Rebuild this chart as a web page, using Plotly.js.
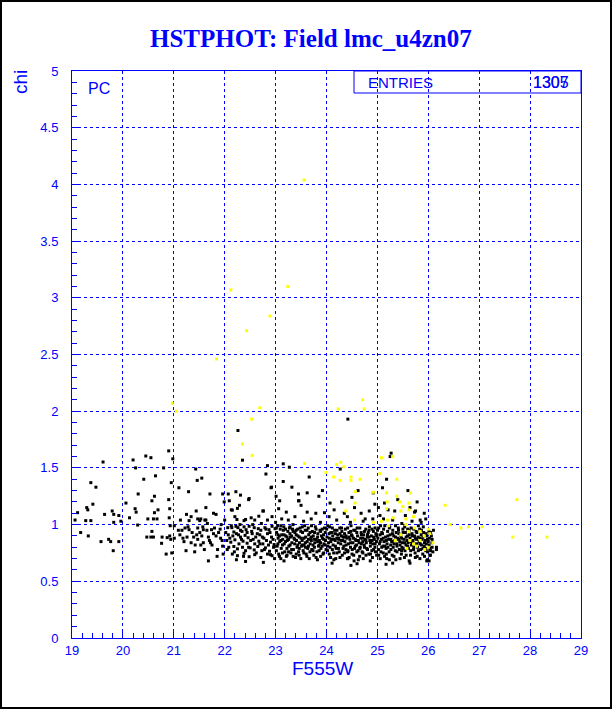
<!DOCTYPE html>
<html>
<head>
<meta charset="utf-8">
<script src="https://cdn.plot.ly/plotly-3.0.1.min.js"></script>
<style>
html,body{margin:0;padding:0;background:#fff;}
#wrap{position:relative;width:612px;height:709px;}
#chart{width:612px;height:709px;}
#frame{position:absolute;left:0;top:0;width:612px;height:709px;box-sizing:border-box;border:2px solid #000;pointer-events:none;}
</style>
</head>
<body>
<div id="wrap"><div id="chart"></div><div id="frame"></div></div>
<script>
// ---- data ----
const titleText = "HSTPHOT: Field lmc_u4zn07";
const xTitle = "F555W";
const yTitle = "chi";
const entriesA = "1305";
const entriesB = "1307";

// black points: [F555W, chi]
const blackSparse = [
[19.06,1.04],[19.11,1.105],[19.17,0.93],[19.27,1.035],[19.29,1.15],[19.31,1.13],[19.32,0.90],[19.37,1.37],[19.37,1.035],[19.41,1.18],[19.47,1.33],[19.57,0.85],[19.61,1.552],[19.64,1.09],[19.72,0.87],[19.76,0.85],[19.79,1.12],[19.81,0.77],[19.82,1.09],[19.82,1.02],[19.92,1.08],[19.92,0.85],[19.96,1.03],
[20.06,1.19],[20.13,1.06],[20.20,1.57],[20.24,1.14],[20.25,1.50],[20.26,1.11],[20.29,0.996],[20.30,1.27],[20.41,1.40],[20.45,1.605],[20.47,0.89],[20.49,1.05],[20.55,1.59],[20.55,0.89],[20.57,1.21],[20.57,0.94],[20.60,0.89],[20.60,1.05],[20.62,1.25],[20.62,1.105],[20.64,1.43],[20.67,1.05],[20.69,1.13],[20.76,0.835],[20.77,0.89],[20.80,1.50],[20.85,0.74],[20.87,0.885],[20.90,1.65],[20.90,1.22],[20.91,1.06],[20.92,1.14],[20.92,0.90],[20.93,0.99],[20.94,0.87],[20.95,1.37],[20.96,0.75],[20.98,1.58],[21.01,0.88],[21.01,0.99]
];
const blackBand21 = [
[21.09,0.95],[21.10,1.325],[21.13,1.04],[21.16,0.95],[21.20,0.85],[21.24,0.77],[21.25,1.09],[21.26,0.89],[21.28,0.98],[21.29,1.29],[21.30,0.955],[21.30,1.035],[21.34,1.07],[21.34,0.84],[21.39,0.89],[21.42,0.82],[21.43,1.49],[21.44,1.12],[21.46,1.39],[21.47,1.05],[21.47,0.97],[21.47,0.87],[21.51,0.93],[21.51,1.035],[21.53,0.82],[21.55,1.41],[21.58,0.955],[21.58,0.84],[21.61,1.04],[21.63,1.15],[21.65,0.95],[21.68,0.89],[21.68,0.68],[21.70,0.86],[21.71,1.27],[21.74,0.955],[21.75,0.82],[21.78,0.92],[21.78,1.10],[21.83,1.09],[21.83,0.90],[21.86,0.78],[21.91,0.96],[21.92,0.88],[21.95,0.86],[21.96,0.81],[21.96,1.27],[21.99,1.20],[22.00,1.04],
[21.12,0.91],[21.18,0.88],[21.22,0.97],[21.36,0.93],[21.41,0.76],[21.55,0.90],[21.60,0.78],[21.66,1.01],[21.72,0.84],[21.80,0.97],[21.85,0.72],[21.88,0.93],[21.93,1.00],[21.97,0.74],[21.57,0.98],[21.45,0.91],[21.53,1.05],[21.63,1.04]
];
const blackBand22 = [
[22.06,0.973],[22.14,0.973],[22.18,0.935],[22.22,0.985],[22.26,0.973],[22.31,0.95],[22.38,0.98],[22.42,0.955],[22.48,0.985],[22.58,0.973],[22.66,0.964],[22.71,0.95],[22.79,0.973],[22.87,0.955],[22.93,0.985],[22.99,0.964],
[22.07,0.91],[22.16,0.90],[22.23,0.92],[22.31,0.89],[22.40,0.905],[22.46,0.884],[22.54,0.92],[22.61,0.89],[22.69,0.91],[22.77,0.88],[22.84,0.92],[22.92,0.89],
[22.04,0.86],[22.12,0.845],[22.20,0.866],[22.28,0.83],[22.36,0.854],[22.44,0.836],[22.51,0.86],[22.59,0.83],[22.67,0.854],[22.75,0.83],[22.82,0.86],[22.90,0.845],[22.97,0.824],
[22.08,0.80],[22.18,0.807],[22.25,0.786],[22.35,0.80],[22.41,0.77],[22.50,0.795],[22.58,0.777],[22.65,0.807],[22.73,0.77],[22.80,0.795],[22.88,0.765],[22.96,0.80],
[22.15,0.74],[22.25,0.726],[22.38,0.747],[22.48,0.717],[22.59,0.735],[22.71,0.71],[22.84,0.74],[22.93,0.726],[22.23,0.69],[22.41,0.675],[22.76,0.667],[22.90,0.735],
[22.15,1.128],[22.25,1.143],[22.41,1.045],[22.52,1.06],[22.59,1.04],[22.67,1.074],[22.76,1.12],[22.84,1.04],[23.00,1.02],[22.93,1.07],[23.01,1.25],[22.92,1.33],[22.81,1.446],[22.84,1.52],[23.15,1.536],[23.27,1.506],[23.46,1.21],[23.62,1.28],[22.35,1.568],[22.22,1.29],[22.31,1.26],[22.47,1.22],
[22.48,1.23],[22.75,1.12],[22.91,1.325],[22.29,1.17],[22.13,1.13],[22.09,1.21],[22.07,1.27],[22.38,1.035],[22.20,1.07],[22.24,1.045],[22.26,1.83],
[22.02,0.93],[22.10,0.88],[22.13,0.99],[22.19,0.76],[22.27,0.91],[22.33,0.87],[22.37,0.72],[22.44,0.93],[22.47,0.80],[22.53,0.94],[22.56,0.87],[22.62,0.75],[22.64,0.92],[22.69,0.83],[22.74,0.89],[22.78,0.78],[22.81,0.96],[22.86,0.82],[22.89,0.93],[22.95,0.87],[22.98,0.70],[22.05,0.78],[22.30,1.00],[22.55,1.00],[22.72,1.01],[22.34,0.94]
];
const blackBand23 = [
[23.08,1.21],[23.21,1.11],[23.06,1.14],[23.32,1.33],[23.45,1.27],[23.45,1.21],[23.62,1.11],[23.79,1.10],[23.96,1.105],[23.12,1.05],[23.25,1.04],[23.38,1.07],[23.55,1.03],[23.70,1.05],[23.88,1.02],[23.50,1.17],[23.92,1.30],[23.15,1.38],[23.66,1.42],[23.85,1.25],
[23.02,0.93],[23.031,0.81],[23.05,0.88],[23.061,0.74],[23.042,0.99],[23.08,0.85],[23.091,0.96],[23.11,0.79],[23.121,0.91],[23.102,0.70],[23.14,0.87],[23.151,0.95],[23.17,0.83],[23.181,0.76],[23.162,0.98],[23.20,0.90],[23.211,0.72],[23.23,0.86],[23.241,0.94],[23.222,0.79],[23.26,0.81],[23.271,0.97],[23.29,0.89],[23.301,0.75],[23.282,0.92],[23.32,0.84],[23.331,0.96],[23.35,0.78],[23.361,0.88],[23.342,1.00],[23.38,0.93],[23.391,0.71],[23.41,0.86],[23.421,0.80],[23.402,0.95],[23.44,0.90],[23.451,0.76],[23.47,0.84],[23.481,0.97],[23.462,0.73],[23.50,0.88],[23.511,0.81],[23.53,0.93],[23.541,0.77],[23.522,0.86],[23.56,0.82],[23.571,0.99],[23.59,0.89],[23.601,0.74],[23.582,0.95],[23.62,0.85],[23.631,0.79],[23.65,0.91],[23.661,0.70],[23.642,0.97],[23.68,0.83],[23.691,0.88],[23.71,0.78],[23.721,0.94],[23.702,0.86],[23.74,0.90],[23.751,0.73],[23.77,0.84],[23.781,0.98],[23.762,0.80],[23.80,0.87],[23.811,0.76],[23.83,0.92],[23.841,0.81],[23.822,0.69],[23.86,0.86],[23.871,0.95],[23.89,0.79],[23.901,0.90],[23.882,0.84],[23.92,0.88],[23.931,0.74],[23.95,0.83],[23.961,0.97],[23.942,0.91],[23.98,0.86],[23.991,0.78],
[23.015,0.77],[23.015,0.97],[23.045,0.83],[23.045,0.91],[23.075,0.72],[23.075,0.90],[23.105,0.86],[23.105,0.99],[23.135,0.75],[23.135,0.82],[23.165,0.91],[23.165,0.68],[23.195,0.85],[23.195,0.96],[23.225,0.73],[23.225,0.89],[23.255,0.87],[23.255,0.76],[23.285,0.82],[23.285,0.98],[23.315,0.78],[23.315,0.90],[23.345,0.94],[23.345,0.72],[23.375,0.83],[23.375,0.87],[23.405,0.74],[23.405,0.91],[23.435,0.96],[23.435,0.82],[23.465,0.79],[23.465,0.89],[23.495,0.94],[23.495,0.70],[23.525,0.82],[23.525,0.98],[23.555,0.88],[23.555,0.75],[23.585,0.80],[23.585,0.84],[23.615,0.95],[23.615,0.72],[23.645,0.81],[23.645,0.87],[23.675,0.76],[23.675,0.93],[23.705,0.89],[23.705,0.99],[23.735,0.82],[23.735,0.77],[23.765,0.93],[23.765,0.87],[23.795,0.71],[23.795,0.96],[23.825,0.85],[23.825,0.89],[23.855,0.77],[23.855,0.82],[23.885,0.94],[23.885,0.72],[23.915,0.81],[23.915,0.96],[23.945,0.87],[23.945,0.75],[23.975,0.93],[23.975,0.82]
];
const blackBand24 = [
[24.07,1.19],[24.30,1.20],[24.41,1.07],[24.47,1.02],[24.68,1.10],[24.76,1.05],[24.84,1.12],[24.91,1.05],[24.92,1.28],[24.27,1.49],[24.42,1.93],[24.15,1.13],[24.55,1.15],[24.62,1.30],[24.20,1.04],[24.35,1.10],[24.95,1.18],[24.05,1.07],[24.72,1.03],[24.50,1.24],
[24.01,0.89],[24.021,0.77],[24.003,0.96],[24.04,0.84],[24.051,0.92],[24.07,0.80],[24.081,0.71],[24.062,0.98],[24.10,0.87],[24.111,0.93],[24.13,0.82],[24.141,0.75],[24.122,0.90],[24.16,0.95],[24.171,0.86],[24.19,0.79],[24.201,0.88],[24.182,0.70],[24.22,0.91],[24.231,0.84],[24.25,0.76],[24.261,0.97],[24.242,0.87],[24.28,0.83],[24.291,0.90],[24.31,0.73],[24.321,0.86],[24.302,0.94],[24.34,0.81],[24.351,0.89],[24.37,0.96],[24.381,0.78],[24.362,0.85],[24.40,0.88],[24.411,0.70],[24.43,0.83],[24.441,0.93],[24.422,0.77],[24.46,0.87],[24.471,0.80],[24.49,0.91],[24.501,0.74],[24.482,0.99],[24.52,0.84],[24.531,0.88],[24.55,0.79],[24.561,0.95],[24.542,0.68],[24.58,0.86],[24.591,0.82],[24.61,0.90],[24.621,0.77],[24.602,0.97],[24.64,0.84],[24.651,0.72],[24.67,0.88],[24.681,0.93],[24.662,0.80],[24.70,0.76],[24.711,0.85],[24.73,0.91],[24.741,0.82],[24.722,0.70],[24.76,0.87],[24.771,0.96],[24.79,0.79],[24.801,0.89],[24.782,0.84],[24.82,0.93],[24.831,0.74],[24.85,0.86],[24.861,0.81],[24.842,0.98],[24.88,0.90],[24.891,0.77],[24.91,0.83],[24.921,0.94],[24.902,0.71],[24.94,0.87],[24.951,0.80],[24.97,0.92],[24.981,0.85],[24.962,0.76],
[24.025,0.81],[24.025,0.99],[24.055,0.74],[24.055,0.88],[24.085,0.93],[24.085,0.85],[24.115,0.78],[24.115,0.97],[24.145,0.87],[24.145,0.69],[24.175,0.81],[24.175,0.92],[24.205,0.75],[24.205,0.95],[24.235,0.88],[24.235,0.79],[24.265,0.71],[24.265,0.92],[24.295,0.86],[24.295,0.97],[24.325,0.79],[24.325,0.89],[24.355,0.92],[24.355,0.75],[24.385,0.82],[24.385,0.90],[24.415,0.76],[24.415,0.97],[24.445,0.89],[24.445,0.71],[24.475,0.84],[24.475,0.94],[24.505,0.78],[24.505,0.90],[24.535,0.95],[24.535,0.73],[24.565,0.87],[24.565,0.81],[24.595,0.76],[24.595,0.93],[24.625,0.86],[24.625,0.69],[24.655,0.79],[24.655,0.97],[24.685,0.91],[24.685,0.83],[24.715,0.75],[24.715,0.88],[24.745,0.94],[24.745,0.80],[24.775,0.86],[24.775,0.73],[24.805,0.78],[24.805,0.91],[24.835,0.89],[24.835,0.95],[24.865,0.74],[24.865,0.84],[24.895,0.96],[24.895,0.86],[24.925,0.78],[24.925,0.89],[24.955,0.83],[24.955,0.97],[24.985,0.73],[24.985,0.90],
[24.48,0.64],[24.42,0.70],[24.86,0.68],[24.11,0.66],[24.60,0.655]
];
const blackBand25 = [
[25.27,1.63],[25.25,1.60],[25.18,1.40],[25.10,1.325],[25.14,1.19],[25.21,1.13],[25.34,1.12],[25.64,1.15],[25.73,1.11],[25.75,1.12],[25.84,1.04],[25.86,1.02],[25.05,1.08],[25.12,1.05],[25.40,1.22],[25.55,1.08],[25.30,1.04],[25.48,1.01],[25.68,1.03],[25.95,1.05],[25.78,1.20],[25.92,1.10],[25.60,1.30],[25.02,1.15],
[25.01,0.88],[25.021,0.78],[25.003,0.95],[25.04,0.83],[25.051,0.91],[25.07,0.76],[25.081,0.87],[25.062,0.99],[25.10,0.92],[25.111,0.81],[25.13,0.85],[25.141,0.72],[25.122,0.96],[25.16,0.89],[25.171,0.79],[25.19,0.83],[25.201,0.94],[25.182,0.70],[25.22,0.87],[25.231,0.76],[25.25,0.91],[25.261,0.82],[25.242,0.98],[25.28,0.85],[25.291,0.73],[25.31,0.80],[25.321,0.90],[25.302,0.95],[25.34,0.86],[25.351,0.77],[25.37,0.93],[25.381,0.83],[25.362,0.69],[25.40,0.88],[25.411,0.97],[25.43,0.78],[25.441,0.85],[25.422,0.92],[25.46,0.90],[25.471,0.74],[25.49,0.84],[25.501,0.96],[25.482,0.80],[25.52,0.87],[25.531,0.71],[25.55,0.93],[25.561,0.82],[25.542,0.77],[25.58,0.86],[25.591,0.90],[25.61,0.79],[25.621,0.95],[25.602,0.84],[25.64,0.88],[25.651,0.73],[25.67,0.82],[25.681,0.92],[25.662,0.97],[25.70,0.86],[25.711,0.78],[25.73,0.90],[25.741,0.75],[25.722,0.83],[25.76,0.94],[25.771,0.87],[25.79,0.80],[25.801,0.89],[25.782,0.72],[25.82,0.85],[25.831,0.96],[25.85,0.78],[25.861,0.91],[25.842,0.83],[25.88,0.87],[25.891,0.74],[25.91,0.93],[25.921,0.81],[25.902,0.98],[25.94,0.86],[25.951,0.77],[25.97,0.90],[25.981,0.69],[25.962,0.83],[26.00,0.85],[26.011,0.94],[26.03,0.79],[26.041,0.73],[26.022,0.88],[26.06,0.90],[26.071,0.84],[26.09,0.76],[26.101,0.95],
[25.025,0.73],[25.025,0.97],[25.055,0.85],[25.055,0.70],[25.085,0.80],[25.085,0.93],[25.115,0.88],[25.115,0.75],[25.145,0.81],[25.145,0.99],[25.175,0.74],[25.175,0.86],[25.205,0.90],[25.205,0.80],[25.235,0.97],[25.235,0.69],[25.265,0.78],[25.265,0.87],[25.295,0.85],[25.295,0.92],[25.325,0.72],[25.325,0.83],[25.355,0.89],[25.355,0.99],[25.385,0.76],[25.385,0.81],[25.415,0.95],[25.415,0.87],[25.445,0.82],[25.445,0.70],[25.475,0.88],[25.475,0.77],[25.505,0.93],[25.505,0.79],[25.535,0.84],[25.535,0.98],[25.565,0.73],[25.565,0.89],[25.595,0.81],[25.595,0.96],[25.625,0.91],[25.625,0.68],[25.655,0.77],[25.655,0.85],[25.685,0.84],[25.685,0.90],[25.715,0.96],[25.715,0.80],[25.745,0.71],[25.745,0.88],[25.775,0.83],[25.775,0.93],[25.805,0.77],[25.805,0.99],[25.835,0.88],[25.835,0.70],[25.865,0.82],[25.865,0.95],[25.895,0.79],[25.895,0.89],[25.925,0.84],[25.925,0.72],[25.955,0.92],[25.955,0.79],[25.985,0.76],[25.985,0.87],[26.015,0.82],[26.015,0.68],[26.045,0.93],[26.045,0.77],[26.075,0.80],[26.075,0.87],[26.16,0.78],[26.16,0.80],
[25.17,0.65],[25.64,0.66],[25.97,0.68],[26.03,0.73],[25.30,0.66]
];
// yellow points: [F555W, chi]
const yellowPts = [
[20.97,2.07],[21.05,2.00],[21.84,2.46],[22.43,2.71],[22.89,2.84],[22.12,3.07],[23.24,3.10],[23.56,4.04],[22.69,2.03],[22.53,1.93],[22.35,1.71],[24.23,2.02],[24.71,2.10],[24.74,2.02],[22.54,1.61],[23.57,1.54],[23.99,1.46],
[24.28,1.55],[24.20,1.53],[24.34,1.51],[24.14,1.42],[24.27,1.39],[24.48,1.42],[24.48,1.39],[24.66,1.40],[25.08,1.59],[25.30,1.60],[25.05,1.45],[25.38,1.40],[24.57,1.29],[24.92,1.285],[25.18,1.28],[25.65,1.28],[25.38,1.25],[24.56,1.19],[25.19,1.20],[25.44,1.20],[25.62,1.19],[25.50,1.16],[25.18,1.14],[25.62,1.13],[24.38,1.12],[25.46,1.12],[25.71,1.07],[25.31,1.06],[25.56,1.05],[25.20,1.04],[25.08,1.03],[24.55,1.04],[24.92,1.02],[25.56,1.00],[25.22,0.99],[25.73,0.97],[25.61,0.94],[25.84,0.94],[26.00,0.96],[26.03,0.92],[25.92,0.90],[25.46,0.91],[25.35,0.86],[25.64,0.86],[25.84,0.86],[26.09,0.84],[25.77,0.81],[25.93,0.78],[26.00,0.80],[25.58,0.79],[25.71,0.83],
[26.33,1.17],[26.43,1.00],[26.64,0.97],[26.79,0.98],[27.06,0.98],[27.74,1.22],[27.66,0.89],[28.33,0.89]
];

const xTicks = [19,20,21,22,23,24,25,26,27,28,29];
const yTicks = [0,0.5,1,1.5,2,2.5,3,3.5,4,4.5,5];

// ---- build ----
const black = [].concat(blackSparse, blackBand21, blackBand22, blackBand23, blackBand24, blackBand25);
const BLUE = '#0000ff';
const px2paperX = p => (p - 72) / 509;
const px2paperY = p => (638 - p) / 567;

const traces = [
  {type:'scatter', mode:'markers', x: black.map(p=>p[0]), y: black.map(p=>p[1]),
   marker:{symbol:'square', size:3, color:'#000000', line:{width:0}}, hoverinfo:'skip'},
  {type:'scatter', mode:'markers', x: yellowPts.map(p=>p[0]), y: yellowPts.map(p=>p[1]),
   marker:{symbol:'square', size:3, color:'#ffff00', line:{width:0}}, hoverinfo:'skip'}
];

const axisCommon = {
  showgrid:true, gridcolor:BLUE, gridwidth:1, griddash:'dot',
  showline:true, linecolor:BLUE, linewidth:1, mirror:true,
  ticks:'inside', ticklen:9, tickcolor:BLUE, tickwidth:1,
  tickfont:{family:'Liberation Sans, Arial, sans-serif', size:13, color:BLUE},
  zeroline:false, fixedrange:true
};

const layout = {
  width:612, height:709,
  margin:{l:72, r:31, t:71, b:71},
  paper_bgcolor:'#ffffff', plot_bgcolor:'#ffffff',
  showlegend:false,
  xaxis: Object.assign({}, axisCommon, {
    range:[19,29], tickmode:'array', tickvals:xTicks, ticktext:xTicks.map(String),
    minor:{dtick:0.2, tick0:19, ticks:'inside', ticklen:5, tickcolor:BLUE, showgrid:false},
    ticklabelstandoff:0
  }),
  yaxis: Object.assign({}, axisCommon, {
    range:[0,5], tickmode:'array', tickvals:yTicks, ticktext:yTicks.map(String),
    minor:{dtick:0.1, tick0:0, ticks:'inside', ticklen:5, tickcolor:BLUE, showgrid:false},
    ticklabelstandoff:10
  }),
  shapes:[
    {type:'rect', xref:'paper', yref:'paper', x0:px2paperX(354), x1:1, y0:px2paperY(93), y1:1,
     line:{color:BLUE, width:1}, fillcolor:'rgba(0,0,0,0)'}
  ],
  annotations:[
    {text:'<b>'+titleText+'</b>', xref:'paper', yref:'paper', x:px2paperX(311), y:px2paperY(38),
     xanchor:'center', yanchor:'middle', showarrow:false,
     font:{family:'Liberation Serif, Times New Roman, serif', size:25, color:BLUE}},
    {text:xTitle, xref:'paper', yref:'paper', x:px2paperX(322), y:px2paperY(668),
     xanchor:'center', yanchor:'middle', showarrow:false,
     font:{family:'Liberation Sans, Arial, sans-serif', size:19, color:BLUE}},
    {text:yTitle, xref:'paper', yref:'paper', x:px2paperX(20), y:px2paperY(82),
     xanchor:'center', yanchor:'middle', showarrow:false, textangle:-90,
     font:{family:'Liberation Sans, Arial, sans-serif', size:19, color:BLUE}},
    {text:'PC', xref:'paper', yref:'paper', x:px2paperX(99), y:px2paperY(88),
     xanchor:'center', yanchor:'middle', showarrow:false,
     font:{family:'Liberation Sans, Arial, sans-serif', size:16, color:BLUE}},
    {text:'ENTRIES', xref:'paper', yref:'paper', x:px2paperX(366), y:px2paperY(82),
     xanchor:'left', yanchor:'middle', showarrow:false,
     font:{family:'Liberation Sans, Arial, sans-serif', size:15, color:BLUE}},
    {text:entriesA, xref:'paper', yref:'paper', x:px2paperX(571), y:px2paperY(82),
     xanchor:'right', yanchor:'middle', showarrow:false,
     font:{family:'Liberation Sans, Arial, sans-serif', size:16, color:BLUE}},
    {text:entriesB, xref:'paper', yref:'paper', x:px2paperX(571), y:px2paperY(82),
     xanchor:'right', yanchor:'middle', showarrow:false,
     font:{family:'Liberation Sans, Arial, sans-serif', size:16, color:BLUE}}
  ]
};

Plotly.newPlot('chart', traces, layout, {displayModeBar:false, staticPlot:true});
</script>
</body>
</html>
